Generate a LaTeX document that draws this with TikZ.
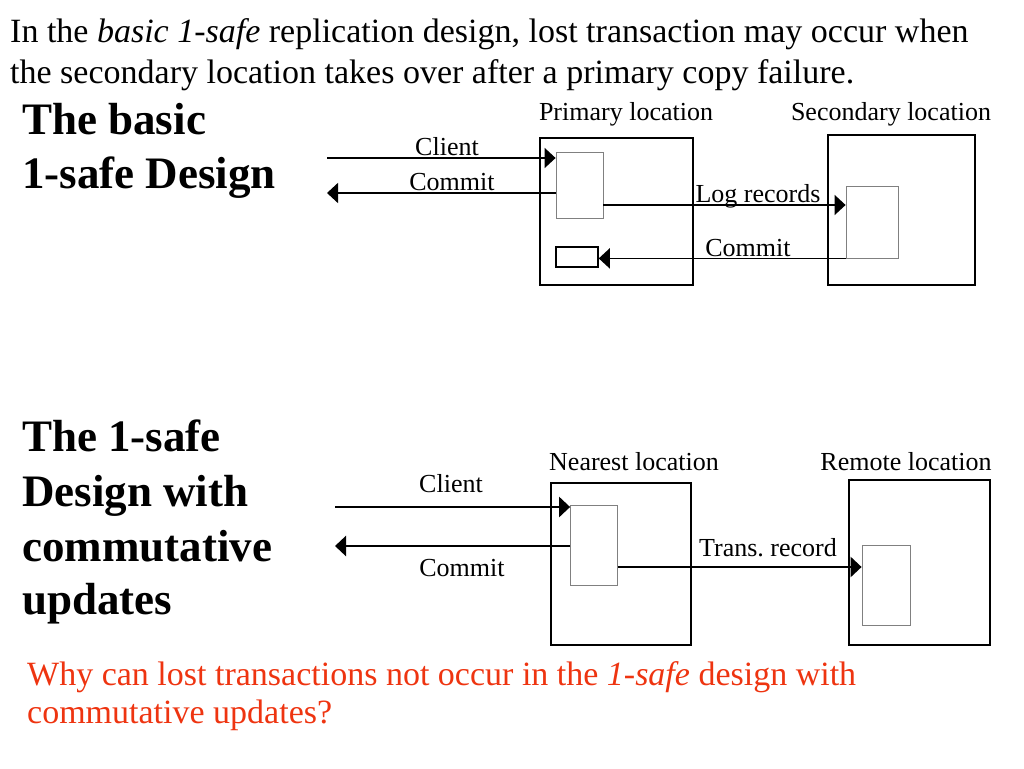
\documentclass[tikz,border=0pt]{standalone}
\usepackage{fontspec}
\setmainfont{Liberation Serif}
\usepackage{tikz}
\usetikzlibrary{arrows.meta,calc}
\definecolor{qred}{RGB}{238,52,16}
\tikzset{
  box/.style={draw,line width=2pt,inner sep=0pt},
  buf/.style={draw,gray,line width=0.8pt,inner sep=0pt},
  flow/.style={-{Triangle[length=11pt,width=20pt]},line width=1.5pt},
  lbl/.style={inner sep=0pt,anchor=base,font=\fontsize{26}{30}\selectfont},
  head/.style={inner sep=0pt,anchor=base west,font=\fontsize{34}{40}\selectfont},
  ttl/.style={inner sep=0pt,anchor=base west,font=\fontsize{45}{54}\selectfont\bfseries},
}
\begin{document}
\begin{tikzpicture}[x=1pt,y=-1pt]
  \useasboundingbox (0,0) rectangle (1024,768);
  % header text
  \node[head] (hd1) at (10,43)
    {In the \textit{basic 1-safe} replication design, lost transaction may occur when};
  \node[head] (hd2) at (10,83)
    {the secondary location takes over after a primary copy failure.};
  \node[ttl] (t1) at (22,134) {The basic};
  \node[ttl] (t2) at (22,188) {1-safe Design};
  \node[ttl] (t3) at (22,451) {The 1-safe};
  \node[ttl] (t4) at (22,506) {Design with};
  \node[ttl] (t5) at (22,561) {commutative};
  \node[ttl] (t6) at (22,614) {updates};

  % basic 1-safe design
  \node[box,minimum width=153pt,minimum height=147pt] (prim) at (616.5,211.5) {};
  \node[box,minimum width=147pt,minimum height=150pt] (sec) at (901.5,210) {};
  \node[buf,minimum width=47pt,minimum height=66pt] (pbuf) at (579.5,185) {};
  \node[draw,line width=1.5pt,inner sep=0pt,minimum width=42pt,minimum height=20pt] (ack) at (577,257) {};
  \node[buf,minimum width=52pt,minimum height=72pt] (sbuf) at (872,222) {};
  \node[lbl] (pl) at (626,120) {Primary location};
  \node[lbl] (sl) at (891,120) {Secondary location};
  \coordinate (cin) at (327,158);
  \coordinate (cout) at (327,193);
  \coordinate (lg) at (0,205);
  \draw[flow] (cin) -- (cin -| pbuf.west);
  \draw[flow] (cout -| pbuf.west) -- (cout);
  \draw[flow] (lg -| pbuf.east) -- (lg -| sbuf.west);
  \draw[flow] (sbuf.south west) -- (sbuf.south west -| ack.east);
  \node[lbl] (cl) at (447,155) {Client};
  \node[lbl] (cm) at (452,190) {Commit};
  \node[lbl] (lr) at (758,202) {Log records};
  \node[lbl] (cb) at (748,256) {Commit};

  % 1-safe design with commutative updates
  \node[box,minimum width=140pt,minimum height=162pt] (near) at (621,564) {};
  \node[box,minimum width=141pt,minimum height=165pt] (remo) at (919.5,562.5) {};
  \node[buf,minimum width=47pt,minimum height=80pt] (nbuf) at (594,545) {};
  \node[buf,minimum width=48pt,minimum height=80pt] (rbuf) at (886,585) {};
  \node[lbl] (nl) at (634,470) {Nearest location};
  \node[lbl] (rl) at (906,470) {Remote location};
  \coordinate (din) at (335,507);
  \coordinate (dout) at (335,546);
  \coordinate (tr) at (0,567);
  \draw[flow,line width=2.5pt] (din) -- (din -| nbuf.west);
  \draw[flow,line width=2.5pt] (dout -| nbuf.west) -- (dout);
  \draw[flow,line width=2.5pt] (tr -| nbuf.east) -- (tr -| rbuf.west);
  \node[lbl] (cl2) at (451,492) {Client};
  \node[lbl] (cm2) at (462,576) {Commit};
  \node[lbl] (tl) at (768,556) {Trans.\ record};

  % question
  \node[head,text=qred] (q1) at (27,685)
    {Why can lost transactions not occur in the \textit{1-safe} design with};
  \node[head,text=qred] (q2) at (27,723)
    {commutative updates?};
\end{tikzpicture}
\end{document}
